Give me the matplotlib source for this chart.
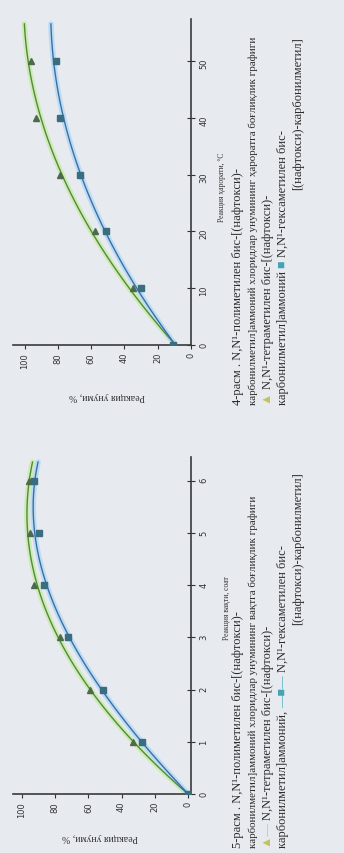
import numpy as np
import matplotlib.pyplot as plt

# Data (yield, %)
temp_c = [0, 10, 20, 30, 40, 50]
temp_tetra = [11, 35, 58, 79, 93, 96]
temp_hexa = [11, 30, 51, 67, 79, 81]

time_h = [0, 1, 2, 3, 4, 5, 6]
time_tetra = [0, 33, 59, 77, 93, 95, 96]
time_hexa = [0, 28, 51, 72, 87, 90, 93]

yield_ticks = [0, 20, 40, 60, 80, 100]

W, H = 344, 854
bg = '#e7eaef'
serif = ['Liberation Serif', 'DejaVu Sans']

fig = plt.figure(figsize=(W / 100, H / 100), dpi=100, facecolor=bg)
renderer = fig.canvas.get_renderer()


def px_axes(left, top, right, bottom):
    return fig.add_axes([left / W, 1 - bottom / H, (right - left) / W, (bottom - top) / H])


def panel(box, x, tetra, hexa, xlim_yield, t_max, t_ticks, deg):
    ax = px_axes(*box)
    ax.set_facecolor('none')
    xs = np.linspace(x[0], t_max * 0.985, 120)
    for vals, line_c, halo_c, mk, mk_c in [
        (tetra, '#4e8c3a', '#cfeab6', '^', '#4d6a4c'),
        (hexa, '#3c6ea6', '#bcdcf3', 's', '#3b6d80'),
    ]:
        coef = np.polyfit(x, vals, deg)
        fit = np.polyval(coef, xs)
        ax.plot(fit, xs, color=halo_c, lw=4, zorder=1, solid_capstyle='round')
        ax.plot(fit, xs, color=line_c, lw=1, zorder=2)
        ax.plot(vals, x, ls='none', marker=mk, color=mk_c, ms=5, zorder=3)
    ax.set_xlim(*xlim_yield)
    ax.set_ylim(0, t_max)
    ax.set_xticks(yield_ticks)
    ax.set_yticks(t_ticks)
    ax.yaxis.tick_right()
    ax.tick_params(axis='x', direction='out', length=3, labelsize=6,
                   labelrotation=90, pad=2, colors='#333333')
    ax.tick_params(axis='y', direction='inout', length=6, labelsize=6,
                   labelrotation=90, pad=3, colors='#333333')
    for s in ('top', 'left'):
        ax.spines[s].set_visible(False)
    for s in ('right', 'bottom'):
        ax.spines[s].set_color('#3a3a3a')
        ax.spines[s].set_linewidth(1.2)
    return ax


def ftext(x, y, s, **kw):
    return fig.text(x / W, 1 - y / H, s, **kw)


def caption_line(x, y0, parts, size=9):
    # pieces of one rotated line, stacked upward from y0 (pixels)
    y = y0
    for s, col in parts:
        t = ftext(x, y, s, rotation=90, rotation_mode='anchor', ha='left',
                  va='center', color=col, fontsize=size, family=serif)
        y -= t.get_window_extent(renderer).height


panel((13, 20, 191, 346), temp_c, temp_tetra, temp_hexa, (107, 0), 57.4,
      temp_c, 2)
panel((13, 458, 191, 795), time_h, time_tetra, time_hexa, (105.4, -1.8), 6.45,
      time_h, 3)

# axis titles
ftext(107, 396, 'Реакция унуми, %', rotation=180, ha='center', va='center',
      fontsize=7, family=serif, color='#333333')
ftext(222, 187, 'Реакция ҳарорати, °С', rotation=90, ha='center', va='center',
      fontsize=5.5, family=serif, color='#333333')
ftext(100, 838, 'Реакция унуми, %', rotation=180, ha='center', va='center',
      fontsize=7, family=serif, color='#333333')
ftext(227, 608, 'Реакция вақти, соат', rotation=90, ha='center', va='center',
      fontsize=5.5, family=serif, color='#333333')

ink = '#2b2b2b'
tri_c = '#c3c45e'
sq_c = '#45a3b5'

# caption 4
caption_line(238, 405, [('4-расм . N,N¹-полиметилен бис-[(нафтокси)-', ink)])
caption_line(253, 405, [('карбонилметил]аммоний хлоридлар унумининг ҳароратга боғлиқлик графиги', ink)], 7.9)
caption_line(268, 405, [('▲ ', tri_c), ('N,N¹-тетраметилен бис-[(нафтокси)-', ink)])
caption_line(283, 405, [('карбонилметил]аммоний ', ink), ('■ ', sq_c),
                        ('N,N¹-гексаметилен бис-', ink)])
caption_line(298, 190, [('[(нафтокси)-карбонилметил]', ink)])

# caption 5
caption_line(238, 848, [('5-расм . N,N¹-полиметилен бис-[(нафтокси)-', ink)])
caption_line(253, 848, [('карбонилметил]аммоний хлоридлар унумининг вақтга боғлиқлик графиги', ink)], 7.9)
caption_line(268, 848, [('▲— ', tri_c), ('N,N¹-тетраметилен бис-[(нафтокси)-', ink)])
caption_line(283, 848, [('карбонилметил]аммоний, ', ink), ('—■— ', sq_c),
                        ('N,N¹-гексаметилен бис-', ink)])
caption_line(298, 625, [('[(нафтокси)-карбонилметил]', ink)])

fig.savefig('out.png', dpi=100, facecolor=bg)
